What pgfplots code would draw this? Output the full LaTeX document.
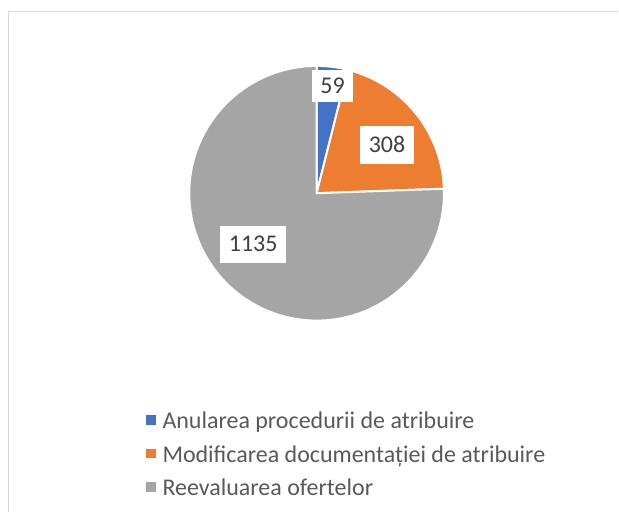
\documentclass[border=0pt]{standalone}
\usepackage{pgfplots}
\usepackage{pgfplotstable}
\pgfplotsset{compat=1.18}
\usepackage{fontspec}
\setmainfont{Carlito}
\definecolor{cblue}{HTML}{4472C4}
\definecolor{corange}{HTML}{ED7D31}
\definecolor{cgray}{HTML}{A5A5A5}
\definecolor{legtext}{HTML}{595959}
\definecolor{labtext}{HTML}{404040}
\definecolor{bordergray}{HTML}{D9D9D9}

\pgfplotstableread{
label value
Anulare 59
Modificare 308
Reevaluare 1135
}\piedata

\pgfplotstablegetelem{0}{value}\of\piedata \let\va\pgfplotsretval
\pgfplotstablegetelem{1}{value}\of\piedata \let\vb\pgfplotsretval
\pgfplotstablegetelem{2}{value}\of\piedata \let\vc\pgfplotsretval
\pgfmathsetmacro{\tot}{\va+\vb+\vc}
% clockwise from 12 o'clock
\pgfmathsetmacro{\aA}{90}
\pgfmathsetmacro{\aB}{90-360*(\va/\tot)}
\pgfmathsetmacro{\aC}{\aB-360*(\vb/\tot)}
\pgfmathsetmacro{\aD}{\aC-360*(\vc/\tot)}

\def\cx{317}
\def\cy{-193.5}
\def\rr{127.5}

\begin{document}
\begin{tikzpicture}
\begin{axis}[
  scale only axis, width=619pt, height=513pt,
  xmin=0, xmax=619, ymin=-513, ymax=0,
  hide axis, clip=false,
  legend image code/.code={\fill[#1,draw=none] (0pt,-1.5pt) rectangle (9.5pt,8pt);},
  legend style={at={(axis cs:143,-408)}, anchor=north west, draw=none, fill=none,
    font=\fontsize{24}{28}\selectfont, text=legtext,
    nodes={text height=16pt, text depth=5pt, inner ysep=3pt, inner xsep=4pt},
    row sep=6.5pt, column sep=3pt},
  legend cell align=left,
]
\path (axis cs:0,0) rectangle (axis cs:619,-513);
\draw[color=bordergray, line width=1.5pt] (axis cs:619,-11.5) -- (axis cs:8.5,-11.5) -- (axis cs:8.5,-513);

\addplot[fill=cblue, draw=white, line width=2pt, line join=round, domain=\aB:\aA, samples=40]
  ({\cx+\rr*cos(x)},{\cy+\rr*sin(x)}) -- (axis cs:\cx,\cy) -- cycle;
\addplot[fill=corange, draw=white, line width=2pt, line join=round, domain=\aC:\aB, samples=80]
  ({\cx+\rr*cos(x)},{\cy+\rr*sin(x)}) -- (axis cs:\cx,\cy) -- cycle;
\addplot[fill=cgray, draw=white, line width=2pt, line join=round, domain=\aD:\aC, samples=200]
  ({\cx+\rr*cos(x)},{\cy+\rr*sin(x)}) -- (axis cs:\cx,\cy) -- cycle;

\legend{Anularea procedurii de atribuire, Modificarea documentației de atribuire, Reevaluarea ofertelor}

\tikzset{lab/.style={fill=white, text=labtext, font=\fontsize{24}{28}\selectfont, inner xsep=8.5pt, inner ysep=0pt, text height=15.5pt, text depth=0pt}}
\node[lab, minimum height=32pt] at (axis cs:333,-86) {59};
\node[lab, minimum height=38pt] at (axis cs:387.5,-145) {308};
\node[lab, minimum height=37pt] at (axis cs:253.5,-244.5) {1135};
\end{axis}
\end{tikzpicture}
\end{document}
